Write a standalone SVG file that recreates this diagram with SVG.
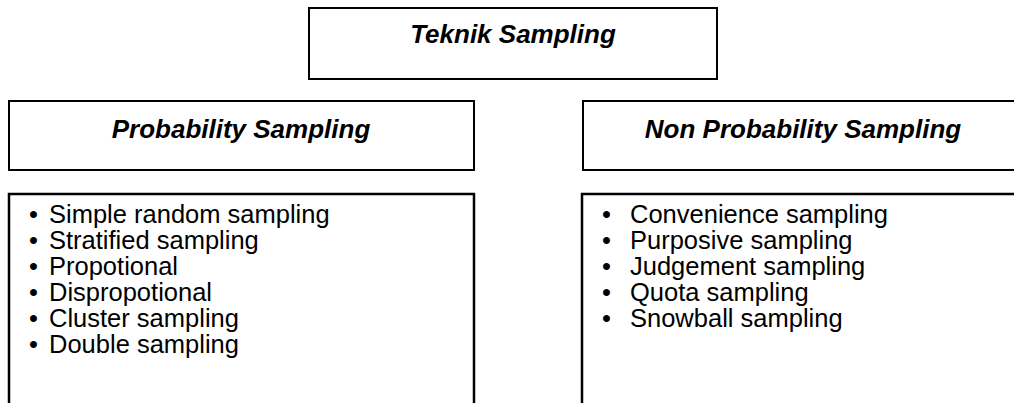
<svg xmlns="http://www.w3.org/2000/svg" width="1014" height="403" viewBox="0 0 1014 403">
<style>
.box{fill:#fff;stroke:#000;stroke-width:2}
.lst{fill:#fff;stroke:#000;stroke-width:2.5}
.h{font-family:"Liberation Sans",Arial,sans-serif;font-size:26px;font-weight:bold;font-style:italic;fill:#000;text-anchor:middle}
.t{font-family:"Liberation Sans",Arial,sans-serif;font-size:25.5px;fill:#000}
</style>
<g id="teknik">
<rect class="box" x="309" y="8" width="408" height="71"/>
<text class="h" x="513" y="43">Teknik Sampling</text>
</g>
<g id="probability">
<rect class="box" x="9" y="101" width="465" height="69"/>
<text class="h" x="241" y="138">Probability Sampling</text>
</g>
<g id="nonprobability">
<rect class="box" x="583" y="101" width="440" height="69"/>
<text class="h" x="803" y="138">Non Probability Sampling</text>
</g>
<g id="probability-list">
<rect class="lst" x="9" y="194" width="465" height="230"/>
<text class="t"><tspan x="29" y="223">•</tspan><tspan x="49" y="223">Simple random sampling</tspan><tspan x="29" y="249">•</tspan><tspan x="49" y="249">Stratified sampling</tspan><tspan x="29" y="275">•</tspan><tspan x="49" y="275">Propotional</tspan><tspan x="29" y="301">•</tspan><tspan x="49" y="301">Dispropotional</tspan><tspan x="29" y="327">•</tspan><tspan x="49" y="327">Cluster sampling</tspan><tspan x="29" y="353">•</tspan><tspan x="49" y="353">Double sampling</tspan></text>
</g>
<g id="nonprobability-list">
<rect class="lst" x="582" y="194" width="441" height="230"/>
<text class="t"><tspan x="602" y="223">•</tspan><tspan x="630" y="223">Convenience sampling</tspan><tspan x="602" y="249">•</tspan><tspan x="630" y="249">Purposive sampling</tspan><tspan x="602" y="275">•</tspan><tspan x="630" y="275">Judgement sampling</tspan><tspan x="602" y="301">•</tspan><tspan x="630" y="301">Quota sampling</tspan><tspan x="602" y="327">•</tspan><tspan x="630" y="327">Snowball sampling</tspan></text>
</g>
<g id="connectors"></g>
</svg>
